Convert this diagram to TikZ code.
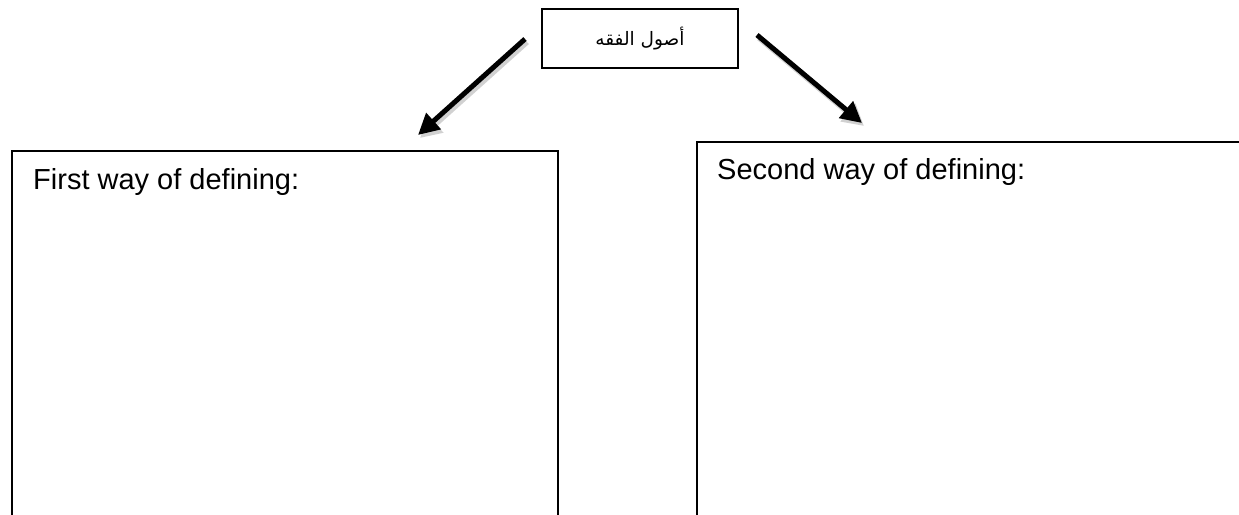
\documentclass[tikz,border=0pt]{standalone}
\usepackage{fontspec}
\setmainfont{Liberation Sans}
\newfontfamily\arabicfont[Script=Arabic]{DejaVu Sans}
\TeXXeTstate=1
\usetikzlibrary{arrows.meta}
\begin{document}
\begin{tikzpicture}[x=1pt,y=1pt,
  box/.style={draw=black,line width=1.6pt,inner sep=0pt},
  label text/.style={anchor=base west,inner sep=0pt,font=\fontsize{29}{34}\selectfont},
  arr/.style={line width=5pt,-{Triangle[length=21pt,width=21pt]}},
  arrshadow/.style={line width=5.5pt,draw=black!18,-{Triangle[length=21pt,width=22pt]},transform canvas={shift={(2pt,-3pt)}}}]
\useasboundingbox (0,0) rectangle (1239,-514);
\clip (0,0) rectangle (1239,-514);
\fill[white] (0,0) rectangle (1239,-514);
% top box
\node[box,minimum width=196pt,minimum height=59pt] (top) at (640,-38.5)
  {\arabicfont\fontsize{18.5}{22}\selectfont\beginR أصول الفقه\endR};
% lower boxes (cut off at the bottom / right edge)
\node[box,anchor=north west,minimum width=546pt,minimum height=420pt] (left) at (11,-150) {};
\node[box,anchor=north west,minimum width=600pt,minimum height=430pt] (right) at (696,-141) {};
\node[label text] (lt) at (33,-189) {First way of defining:};
\node[label text] (rt) at (717,-179) {Second way of defining:};
% arrows
\coordinate (a1s) at (525,-39);
\coordinate (a1e) at (418,-135);
\coordinate (a2s) at (757,-35);
\coordinate (a2e) at (862,-123);
\draw[arrshadow] (a1s) -- (a1e);
\draw[arrshadow] (a2s) -- (a2e);
\draw[arr] (a1s) -- (a1e);
\draw[arr] (a2s) -- (a2e);
\end{tikzpicture}
\end{document}
